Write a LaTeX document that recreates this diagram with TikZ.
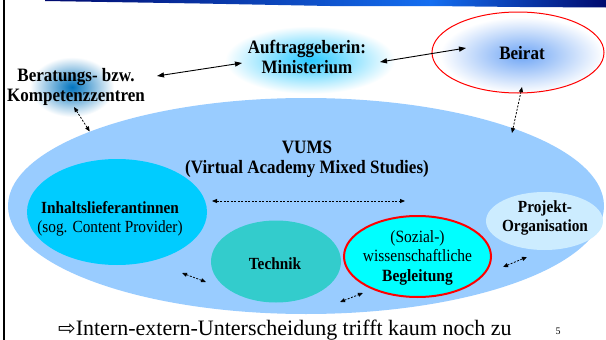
\documentclass[tikz,border=0pt]{standalone}
\usepackage{fontspec}
\setmainfont{Liberation Serif}[FakeStretch=0.9]
\newfontfamily\plainserif{Liberation Serif}
\newfontfamily\symfont{DejaVu Sans}
\usetikzlibrary{shapes.geometric,arrows.meta}
\definecolor{bigblue}{RGB}{153,204,255}
\definecolor{inhcol}{RGB}{0,204,255}
\definecolor{techcol}{RGB}{51,204,204}
\definecolor{begcol}{RGB}{0,255,255}
\definecolor{projcol}{RGB}{204,236,255}
\definecolor{navyband}{RGB}{0,10,110}
\definecolor{bandblue}{RGB}{20,110,240}
\definecolor{glowberat}{RGB}{0,115,190}
\definecolor{glowauft}{RGB}{40,200,255}
\definecolor{glowbeirat}{RGB}{110,165,245}
\definecolor{pured}{RGB}{255,0,0}
\begin{document}
\begin{tikzpicture}[x=1pt,y=-1pt,
  oval/.style={ellipse, inner sep=0pt},
  outerlabel/.style={font=\fontsize{18.9}{20}\selectfont\bfseries, align=center, inner sep=0pt},
  innerlabel/.style={font=\fontsize{17}{19}\selectfont, align=center, inner sep=0pt},
  solidarrow/.style={line width=0.9pt, {Triangle[length=7pt,width=5pt]}-{Triangle[length=7pt,width=5pt]}},
  dasharrow/.style={line width=0.8pt, dash pattern=on 2pt off 1.5pt, {Triangle[length=5pt,width=4pt]}-{Triangle[length=5pt,width=4pt]}}
]
\useasboundingbox (0,0) rectangle (606,340);
\fill[white] (0,0) rectangle (606,340);

% top banner
\shade[left color=navyband, right color=bandblue] (45,0) -- (430,0) -- (430,6) -- (330,6) -- (200,3.5) -- (45,1) -- cycle;
\shade[left color=bandblue, right color=navyband] (430,0) -- (606,0) -- (606,7.5) -- (520,7) -- (430,6) -- cycle;

% left rule
\draw[line width=2pt] (3.5,0) -- (3.5,340);

% glows
\shade[inner color=glowberat, outer color=white] (72,87) ellipse [x radius=42pt, y radius=30pt];
\shade[inner color=glowauft, outer color=white] (310,60) ellipse [x radius=85pt, y radius=34pt];
\shade[inner color=glowbeirat, outer color=white] (522,55) ellipse [x radius=82pt, y radius=38pt];

% ellipses
\node[oval, draw=pured, line width=1pt, minimum width=172pt, minimum height=81pt] (beirat) at (518,52.5) {};
\node[oval, fill=bigblue, minimum width=596pt, minimum height=216pt] (vums) at (306,206) {};
\node[oval, fill=inhcol, minimum width=180pt, minimum height=106pt] (inh) at (117,212) {};
\node[oval, fill=techcol, minimum width=130pt, minimum height=82pt] (tech) at (276,261.5) {};
\node[oval, fill=begcol, draw=pured, line width=2pt, minimum width=147pt, minimum height=81pt] (beg) at (417.5,256.5) {};
\node[oval, fill=projcol, minimum width=117pt, minimum height=58pt] (proj) at (544.5,221) {};

% labels
\node[outerlabel] (beratText) at (76,86.5) {Beratungs- bzw.\\Kompetenzzentren};
\node[outerlabel] (auftText) at (307,57) {Auftraggeberin:\\Ministerium};
\node[outerlabel] (beiratText) at (522,53) {Beirat};
\node[outerlabel] (vumsText) at (307,159) {VUMS\\(Virtual Academy Mixed Studies)};
\node[innerlabel] (inhText) at (110,218.5) {\textbf{Inhaltslieferantinnen}\\(sog. Content Provider)};
\node[innerlabel, font=\fontsize{17}{19}\selectfont\bfseries] (techText) at (275,264) {Technik};
\node[innerlabel, font=\fontsize{17.2}{19.5}\selectfont] (begText) at (417.5,257.5) {(Sozial-)\\wissenschaftliche\\\textbf{Begleitung}};
\node[innerlabel, font=\fontsize{17}{19}\selectfont\bfseries] (projText) at (545,217.5) {Projekt-\\Organisation};

% connector end points
\coordinate (s1a) at (157,76);
\coordinate (s1b) at (242,63);
\coordinate (s2a) at (380,62);
\coordinate (s2b) at (466,48);
\coordinate (d1a) at (74,107);
\coordinate (d2a) at (522,87);
\coordinate (d2b) at (512,133);
\coordinate (d3a) at (212,201);
\coordinate (d3b) at (405,201);
\coordinate (d4a) at (182,273);
\coordinate (d4b) at (206,282);
\coordinate (d5a) at (340,302);
\coordinate (d5b) at (363,293);
\coordinate (d6a) at (503,267);
\coordinate (d6b) at (527,257);

% connectors
\draw[solidarrow] (s1a) -- (s1b);
\draw[solidarrow] (s2a) -- (s2b);
\draw[dasharrow] (d1a) -- (vums.161.6);
\draw[dasharrow] (d2a) -- (d2b);
\draw[dasharrow] (d3a) -- (d3b);
\draw[dasharrow] (d4a) -- (d4b);
\draw[dasharrow] (d5a) -- (d5b);
\draw[dasharrow] (d6a) -- (d6b);

% bottom text
\node[anchor=base west, inner sep=0pt, font=\plainserif\fontsize{22}{24}\selectfont] (bottomText) at (58,335) {{\symfont\fontsize{21}{24}\selectfont ⇨}Intern-extern-Unterscheidung trifft kaum noch zu};
\node[inner sep=0pt, font=\plainserif\fontsize{10}{12}\selectfont] (pageNum) at (558,331) {5};
\end{tikzpicture}
\end{document}
